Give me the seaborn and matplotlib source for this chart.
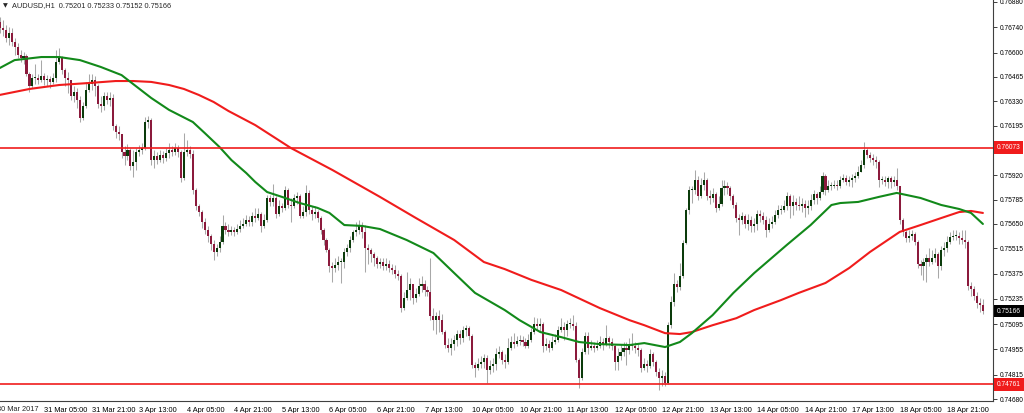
import numpy as np
import matplotlib
matplotlib.use("Agg")
import matplotlib.pyplot as plt
import matplotlib.transforms as mtransforms
import seaborn as sns

# AUDUSD H1, prices in points (1 point = 0.00001); open of each bar = previous close
first_open = 76769

close = [
    76736, 76725, 76680, 76708, 76658, 76631, 76586, 76570, 76581, 76481,
    76414, 76459, 76459, 76448, 76470, 76448, 76453, 76437, 76459, 76547,
    76570, 76503, 76459, 76448, 76359, 76381, 76337, 76237, 76304, 76392,
    76425, 76448, 76414, 76315, 76304, 76359, 76337, 76348, 76193, 76160,
    76149, 76049, 76027, 76060, 75971, 75993, 76049, 76060, 76071, 76215,
    76226, 76004, 76027, 76004, 76032, 76016, 76043, 76060, 76049, 76071,
    76049, 75905, 76049, 76060, 76038, 75838, 75750, 75716, 75661, 75617,
    75583, 75539, 75495, 75517, 75550, 75639, 75617, 75606, 75617, 75606,
    75622, 75639, 75650, 75672, 75661, 75694, 75683, 75705, 75639, 75672,
    75794, 75772, 75794, 75705, 75750, 75739, 75838, 75755, 75750, 75794,
    75805, 75694, 75716, 75822, 75728, 75705, 75716, 75683, 75617, 75561,
    75506, 75417, 75406, 75423, 75439, 75439, 75495, 75517, 75561, 75606,
    75617, 75639, 75606, 75517, 75506, 75484, 75462, 75428, 75439, 75417,
    75428, 75406, 75395, 75373, 75362, 75184, 75240, 75284, 75318, 75240,
    75262, 75307, 75318, 75284, 75273, 75139, 75117, 75139, 75117, 75051,
    74979, 74962, 74984, 75007, 75040, 75018, 75062, 75073, 75029, 74868,
    74851, 74873, 74884, 74907, 74840, 74862, 74873, 74929, 74940, 74895,
    74884, 74962, 74996, 74984, 75001, 75007, 74996, 74973, 75007, 75051,
    75095, 75084, 75095, 74973, 74984, 74962, 74996, 75007, 75062, 75078,
    75062, 75095, 75095, 75084, 74895, 74796, 74940, 75029, 74962, 74973,
    74962, 74973, 74996, 74984, 75018, 74996, 74973, 74884, 74918, 74940,
    74962, 74951, 74984, 74973, 74962, 74951, 74851, 74873, 74862, 74929,
    74884, 74829, 74796, 74807, 74768, 75089, 75217, 75318, 75301, 75362,
    75545, 75728, 75838, 75838, 75894, 75805, 75866, 75894, 75805, 75794,
    75816, 75739, 75761, 75849, 75861, 75849, 75805, 75755, 75683, 75672,
    75694, 75650, 75672, 75639, 75650, 75705, 75694, 75672, 75617, 75650,
    75661, 75700, 75728, 75728, 75750, 75805, 75750, 75772, 75755, 75750,
    75761, 75739, 75750, 75783, 75816, 75794, 75827, 75916, 75838, 75861,
    75861, 75866, 75861, 75894, 75905, 75883, 75894, 75905, 75916, 75938,
    75977, 76060, 76032, 76016, 76004, 75993, 75894, 75894, 75883, 75905,
    75883, 75894, 75861, 75672, 75606, 75572, 75583, 75595, 75550, 75428,
    75417, 75439, 75462, 75439, 75462, 75484, 75417, 75506, 75517, 75550,
    75578, 75583, 75583, 75572, 75561, 75550, 75307, 75290, 75251, 75211,
    75201, 75166,
]

high = [
    76797, 76780, 76752, 76741, 76736, 76680, 76653, 76614, 76603, 76592,
    76492, 76481, 76536, 76481, 76558, 76486, 76475, 76470, 76486, 76614,
    76625, 76581, 76514, 76492, 76448, 76414, 76403, 76359, 76326, 76437,
    76481, 76481, 76470, 76425, 76359, 76381, 76381, 76381, 76370, 76204,
    76193, 76149, 76082, 76093, 76071, 76060, 76071, 76087, 76098, 76243,
    76248, 76237, 76060, 76049, 76060, 76054, 76071, 76098, 76082, 76098,
    76087, 76060, 76154, 76115, 76082, 76060, 75849, 75761, 75728, 75683,
    75639, 75595, 75561, 75539, 75583, 75700, 75661, 75650, 75639, 75633,
    75650, 75672, 75683, 75700, 75694, 75716, 75739, 75739, 75716, 75705,
    75811, 75811, 75872, 75805, 75783, 75766, 75861, 75849, 75794, 75816,
    75827, 75816, 75750, 75866, 75838, 75750, 75750, 75728, 75694, 75628,
    75572, 75517, 75439, 75462, 75473, 75462, 75517, 75539, 75583, 75617,
    75661, 75672, 75661, 75644, 75539, 75517, 75495, 75473, 75462, 75462,
    75462, 75450, 75428, 75423, 75395, 75373, 75273, 75384, 75351, 75318,
    75295, 75351, 75362, 75340, 75307, 75462, 75184, 75162, 75173, 75151,
    75062, 75018, 75018, 75034, 75062, 75062, 75084, 75089, 75084, 75040,
    74884, 74907, 74918, 74929, 74923, 74895, 74907, 74962, 74973, 74951,
    74929, 75018, 75029, 75045, 75029, 75034, 75029, 75018, 75040, 75073,
    75134, 75128, 75128, 75106, 75018, 75007, 75029, 75040, 75084, 75128,
    75106, 75117, 75128, 75145, 75106, 74907, 74962, 75051, 75051, 75007,
    74996, 75007, 75029, 75018, 75089, 75029, 75018, 74984, 74962, 74984,
    74996, 74996, 75018, 75045, 74996, 74984, 74962, 74907, 74895, 74957,
    74940, 74895, 74851, 74840, 74829, 75106, 75251, 75378, 75340, 75434,
    75561, 75739, 75861, 75861, 75949, 75916, 75905, 75938, 75905, 75838,
    75849, 75827, 75805, 75894, 75894, 75883, 75861, 75816, 75772, 75705,
    75716, 75705, 75705, 75694, 75683, 75728, 75728, 75716, 75694, 75683,
    75694, 75728, 75755, 75755, 75783, 75827, 75816, 75811, 75794, 75805,
    75794, 75783, 75783, 75816, 75838, 75827, 75861, 75938, 75927, 75894,
    75883, 75894, 75894, 75916, 75927, 75921, 75916, 75927, 75938, 75971,
    76004, 76104, 76071, 76049, 76038, 76027, 76004, 75916, 75916, 75916,
    75916, 75916, 75960, 75861, 75683, 75617, 75617, 75617, 75606, 75561,
    75450, 75462, 75484, 75517, 75506, 75517, 75495, 75528, 75550, 75583,
    75606, 75617, 75617, 75606, 75617, 75617, 75561, 75329, 75307, 75273,
    75240, 75233,
]

low = [
    76708, 76691, 76658, 76642, 76636, 76586, 76570, 76547, 76536, 76470,
    76381, 76403, 76425, 76425, 76437, 76420, 76414, 76403, 76425, 76437,
    76536, 76481, 76414, 76376, 76337, 76326, 76293, 76215, 76226, 76293,
    76381, 76392, 76359, 76293, 76270, 76282, 76315, 76304, 76171, 76126,
    76115, 76016, 75977, 76004, 75949, 75910, 75949, 76027, 76038, 76060,
    76182, 75977, 75960, 75982, 75993, 75988, 75999, 76016, 76027, 76032,
    76021, 75883, 75894, 76027, 76016, 75816, 75728, 75694, 75628, 75595,
    75550, 75506, 75450, 75473, 75495, 75539, 75595, 75583, 75589, 75583,
    75595, 75606, 75628, 75639, 75639, 75639, 75661, 75672, 75606, 75628,
    75661, 75750, 75750, 75683, 75694, 75716, 75728, 75739, 75661, 75739,
    75761, 75683, 75683, 75694, 75705, 75672, 75683, 75661, 75595, 75534,
    75495, 75384, 75329, 75384, 75395, 75323, 75406, 75473, 75495, 75550,
    75583, 75595, 75572, 75384, 75428, 75439, 75417, 75406, 75406, 75395,
    75395, 75384, 75373, 75351, 75340, 75162, 75173, 75228, 75228, 75206,
    75217, 75251, 75273, 75251, 75251, 75117, 75062, 75040, 75051, 75040,
    74962, 74940, 74923, 74951, 74973, 74984, 74996, 75029, 75007, 74851,
    74802, 74840, 74851, 74851, 74768, 74818, 74829, 74840, 74907, 74873,
    74851, 74873, 74951, 74962, 74973, 74979, 74973, 74962, 74962, 74996,
    75040, 75062, 75051, 74940, 74951, 74940, 74951, 74984, 74996, 75051,
    75007, 75029, 75073, 75062, 74884, 74741, 74785, 74929, 74929, 74951,
    74940, 74951, 74962, 74951, 74973, 74962, 74951, 74840, 74840, 74895,
    74918, 74868, 74929, 74951, 74934, 74918, 74829, 74840, 74829, 74851,
    74862, 74807, 74730, 74752, 74752, 74763, 75073, 75195, 75273, 75284,
    75351, 75539, 75705, 75766, 75816, 75783, 75794, 75838, 75783, 75761,
    75772, 75716, 75728, 75750, 75811, 75816, 75783, 75739, 75661, 75589,
    75650, 75628, 75617, 75606, 75606, 75617, 75661, 75650, 75578, 75606,
    75628, 75650, 75683, 75705, 75716, 75728, 75683, 75700, 75728, 75728,
    75716, 75689, 75705, 75728, 75761, 75761, 75783, 75816, 75811, 75827,
    75838, 75849, 75838, 75849, 75883, 75866, 75861, 75855, 75883, 75905,
    75938, 75960, 76016, 75993, 75977, 75960, 75855, 75872, 75861, 75849,
    75849, 75861, 75838, 75650, 75583, 75550, 75550, 75561, 75534, 75406,
    75367, 75340, 75329, 75417, 75428, 75439, 75351, 75395, 75473, 75495,
    75539, 75561, 75561, 75539, 75539, 75517, 75284, 75251, 75228, 75184,
    75162, 75152,
]

# moving averages (bar number, value in points)
ma_fast_bar = [1, 6, 15, 21, 28, 35, 42, 52, 58, 66, 70, 75, 79, 84, 87, 91, 96, 102,
               108, 112, 117, 123, 129, 138, 147, 154, 161, 167, 171, 176, 183, 190,
               196, 203, 213, 218, 225, 230, 234, 241, 248, 255, 266, 274, 281, 284,
               290, 297, 303, 311, 318, 324, 328, 332]
ma_fast = [76514, 76558, 76575, 76575, 76558, 76520, 76475, 76348, 76282, 76215,
           76154, 76076, 76004, 75932, 75883, 75827, 75800, 75766, 75739, 75711,
           75644, 75639, 75622, 75561, 75489, 75378, 75268, 75211, 75173, 75117,
           75051, 75023, 74996, 74984, 74979, 74990, 74968, 74996, 75045, 75145,
           75268, 75378, 75534, 75644, 75755, 75766, 75772, 75800, 75822, 75794,
           75755, 75733, 75711, 75650]

ma_slow_bar = [1, 11, 21, 31, 40, 46, 52, 58, 63, 68, 73, 78, 87, 99, 113, 129, 141,
               154, 164, 171, 180, 190, 203, 213, 218, 225, 230, 234, 241, 249, 255,
               264, 270, 279, 287, 294, 304, 311, 318, 324, 328, 332]
ma_slow = [76365, 76398, 76420, 76431, 76442, 76442, 76437, 76420, 76398, 76365,
           76326, 76276, 76198, 76071, 75949, 75800, 75684, 75561, 75439, 75400,
           75340, 75284, 75184, 75117, 75089, 75045, 75040, 75051, 75089, 75128,
           75173, 75228, 75268, 75323, 75406, 75495, 75606, 75644, 75683, 75716,
           75722, 75711]

levels = [0.76073, 0.74761]
last_price = 0.75166

time_labels = ["30 Mar 2017", "31 Mar 05:00", "31 Mar 21:00", "3 Apr 13:00",
               "4 Apr 05:00", "4 Apr 21:00", "5 Apr 13:00", "6 Apr 05:00",
               "6 Apr 21:00", "7 Apr 13:00", "10 Apr 05:00", "10 Apr 21:00",
               "11 Apr 13:00", "12 Apr 05:00", "12 Apr 21:00", "13 Apr 13:00",
               "14 Apr 05:00", "14 Apr 21:00", "17 Apr 13:00", "18 Apr 05:00",
               "18 Apr 21:00"]
price_ticks = [0.76880, 0.76740, 0.76600, 0.76465, 0.76330, 0.76195, 0.75920,
               0.75785, 0.75650, 0.75515, 0.75375, 0.75235, 0.75095, 0.74955,
               0.74815, 0.74680]
header = "AUDUSD,H1  0.75201 0.75233 0.75152 0.75166"

sns.set_style("white")
plt.rcParams["font.family"] = ["Liberation Sans", "DejaVu Sans"]

FS = 5.3
FS_Y = 4.8
BULL = "#0b3b0b"
BEAR = "#8b1a3c"
WICK = "#a8a8a8"
RED = "#f01c1c"
GREEN = "#12891a"

c = np.array(close) / 1e5
h = np.array(high) / 1e5
l = np.array(low) / 1e5
o = np.concatenate([[first_open], close[:-1]]) / 1e5
bars = np.arange(1, len(c) + 1)

fig = plt.figure(figsize=(10.24, 4.13), dpi=100)
ax = fig.add_axes([0, 12 / 413, 993 / 1024, 401 / 413])

# candles
ax.vlines(bars, l, h, color=WICK, lw=0.75, zorder=2)
up = c >= o
body_lo = np.minimum(o, c)
body_h = np.maximum(np.abs(c - o), 0.00005)
ax.bar(bars[up], body_h[up], bottom=body_lo[up], width=0.7,
       color=BULL, linewidth=0, zorder=3)
ax.bar(bars[~up], body_h[~up], bottom=body_lo[~up], width=0.7,
       color=BEAR, linewidth=0, zorder=3)

# moving averages
sns.lineplot(x=ma_slow_bar, y=np.array(ma_slow) / 1e5, color=RED, lw=1.5,
             ax=ax, zorder=4)
sns.lineplot(x=ma_fast_bar, y=np.array(ma_fast) / 1e5, color=GREEN, lw=1.5,
             ax=ax, zorder=4)

for lv in levels:
    ax.axhline(lv, color=RED, lw=1.2, zorder=5)

ax.set_xlim(1.08, 335.4)
ax.set_ylim(0.74669, 0.76891)

# axes look
for side in ["left", "top"]:
    ax.spines[side].set_visible(False)
for side in ["right", "bottom"]:
    ax.spines[side].set_color("#404040")
    ax.spines[side].set_linewidth(0.8)

ax.yaxis.tick_right()
ax.set_yticks(price_ticks)
ax.set_yticklabels([f"{p:.5f}" for p in price_ticks])
ax.set_xticks(range(16, 321, 16))
ax.set_xticklabels(time_labels[1:])
ax.tick_params(axis="both", direction="out", length=3, width=0.7,
               colors="#404040", labelcolor="black")
ax.tick_params(axis="y", pad=1.5, labelsize=FS_Y)
ax.tick_params(axis="x", pad=1, labelsize=FS)
for t in ax.get_xticklabels():
    t.set_horizontalalignment("left")
ax.set_xlabel("")
ax.set_ylabel("")

# first date label, cut by the left edge
xt = mtransforms.blended_transform_factory(ax.transData, ax.transAxes)
ax.text(0, -0.012, time_labels[0], transform=xt, fontsize=FS, ha="left",
        va="top", clip_on=False)

# price boxes on the right axis
yt = mtransforms.blended_transform_factory(ax.transAxes, ax.transData)
for val, bg in [(levels[0], RED), (last_price, "black"), (levels[1], RED)]:
    ax.text(1.004, val, f"{val:.5f}", transform=yt, fontsize=FS_Y, color="white",
            ha="left", va="center", clip_on=False, zorder=10,
            bbox=dict(boxstyle="square,pad=0.4", facecolor=bg, edgecolor="none"))

# header
fig.text(3 / 1024, 1 - 6 / 413, "\u25bc", fontsize=4.5, va="center",
         family="DejaVu Sans")
fig.text(12 / 1024, 1 - 6 / 413, header, fontsize=FS, va="center")

fig.savefig("out.png", dpi=100)
